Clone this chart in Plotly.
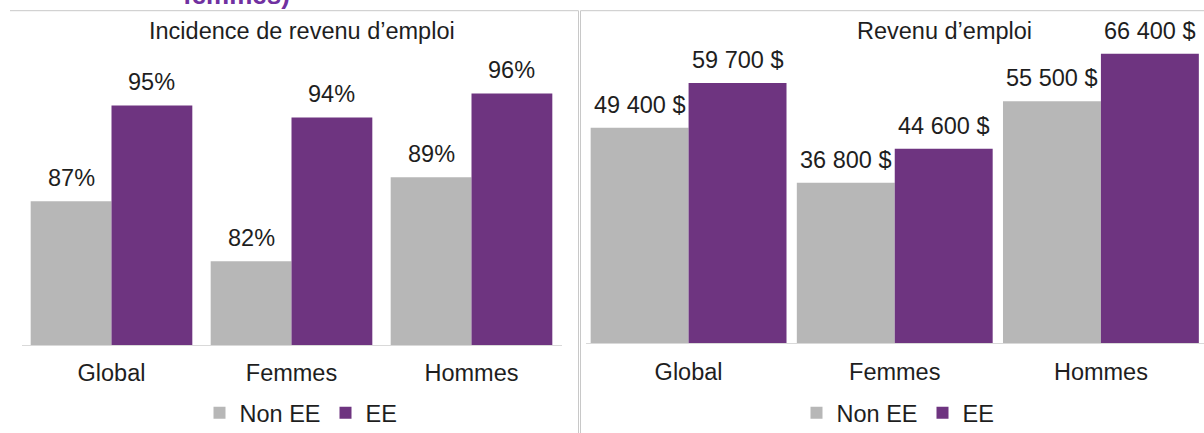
import plotly.graph_objects as go

W, H = 1204, 433

categories = ["Global", "Femmes", "Hommes"]
series_names = ["Non EE", "EE"]

# Incidence de revenu d'emploi (%)
incidence_non_ee = [87, 82, 89]
incidence_ee = [95, 94, 96]

# Revenu d'emploi ($)
revenu_non_ee = [49400, 36800, 55500]
revenu_ee = [59700, 44600, 66400]

panel_titles = ["Incidence de revenu d\u2019emploi", "Revenu d\u2019emploi"]

GRAY = "#B7B7B7"
PURPLE = "#6E3480"
TEXT = "#1E1E1E"
FRAME = "#C8C8C8"
FONT = "Liberation Sans, Arial, sans-serif"
FS = 23.5


def px_x(x):
    return x / W


def px_y(y):
    return 1 - y / H


def fmt_pct(v):
    return f"{v}%"


def fmt_dollar(v):
    return f"{v:,}".replace(",", " ") + " $"


fig = go.Figure()

panels = [
    dict(xa="x", ya="y", legend="legend", width=0.449,
         data=[incidence_non_ee, incidence_ee], fmt=fmt_pct),
    dict(xa="x2", ya="y2", legend="legend2", width=0.475,
         data=[revenu_non_ee, revenu_ee], fmt=fmt_dollar),
]

annotations = []
for p in panels:
    w = p["width"]
    for s, (name, color, vals) in enumerate(zip(series_names, [GRAY, PURPLE], p["data"])):
        offset = -w if s == 0 else 0.0
        fig.add_trace(go.Bar(
            x=categories, y=vals, name=name,
            marker=dict(color=color, line=dict(width=0)),
            width=w, offset=offset,
            xaxis=p["xa"], yaxis=p["ya"], legend=p["legend"],
            hoverinfo="skip",
        ))
        # value labels above each bar
        for i, v in enumerate(vals):
            annotations.append(dict(
                x=i + offset + w / 2, y=v,
                xref=p["xa"], yref=p["ya"],
                text=p["fmt"](v), showarrow=False,
                xanchor="center", yanchor="bottom", yshift=8,
                font=dict(family=FONT, size=FS, color=TEXT),
            ))

# panel titles
annotations.append(dict(x=px_x(302), y=px_y(31), xref="paper", yref="paper",
                        text=panel_titles[0], showarrow=False,
                        xanchor="center", yanchor="middle",
                        font=dict(family=FONT, size=FS, color=TEXT)))
annotations.append(dict(x=px_x(944), y=px_y(31), xref="paper", yref="paper",
                        text=panel_titles[1], showarrow=False,
                        xanchor="center", yanchor="middle",
                        font=dict(family=FONT, size=FS, color=TEXT)))
# heading text running off the top edge
annotations.append(dict(x=px_x(236), y=px_y(11), xref="paper", yref="paper",
                        text="<b>femmes)</b>", showarrow=False,
                        xanchor="center", yanchor="bottom", borderpad=0,
                        font=dict(family=FONT, size=26, color="#7030A0")))

# chart frames
shapes = [
    dict(type="line", xref="paper", yref="paper",
         x0=px_x(10), x1=px_x(578.5), y0=px_y(10.7), y1=px_y(10.7),
         line=dict(color=FRAME, width=1)),
    dict(type="line", xref="paper", yref="paper",
         x0=px_x(578.5), x1=px_x(578.5), y0=px_y(10.7), y1=0,
         line=dict(color=FRAME, width=1)),
    dict(type="line", xref="paper", yref="paper",
         x0=px_x(580.5), x1=1, y0=px_y(10.7), y1=px_y(10.7),
         line=dict(color=FRAME, width=1)),
    dict(type="line", xref="paper", yref="paper",
         x0=px_x(580.5), x1=px_x(580.5), y0=px_y(10.7), y1=0,
         line=dict(color=FRAME, width=1)),
]

xaxis_common = dict(
    type="category", showgrid=False, zeroline=False, ticks="",
    showline=True, linecolor="#D9D9D9", linewidth=1, automargin=False,
    tickfont=dict(family=FONT, size=FS, color=TEXT), fixedrange=True,
    ticklabelstandoff=7,
)
yaxis_common = dict(showgrid=False, zeroline=False, showticklabels=False,
                    showline=False, ticks="", automargin=False, fixedrange=True)

legend_common = dict(
    orientation="h", xanchor="center", yanchor="middle",
    font=dict(family=FONT, size=FS, color=TEXT),
    bgcolor="rgba(0,0,0,0)", itemclick=False, itemdoubleclick=False,
    tracegroupgap=0,
)

fig.update_layout(
    width=W, height=H,
    margin=dict(l=0, r=0, t=0, b=0, autoexpand=False),
    paper_bgcolor="white", plot_bgcolor="white",
    barmode="overlay",
    xaxis=dict(domain=[px_x(21.5), px_x(561.5)], anchor="y",
               range=[-0.5, 2.5], **xaxis_common),
    yaxis=dict(domain=[px_y(345), px_y(45.6)], anchor="x",
               range=[75, 100], **yaxis_common),
    xaxis2=dict(domain=[px_x(585.5), 1.0], anchor="y2",
                range=[-0.5, 2.5], **xaxis_common),
    yaxis2=dict(domain=[px_y(343.3), px_y(38)], anchor="x2",
                range=[0, 70000], **yaxis_common),
    legend=dict(x=px_x(301), y=px_y(413), **legend_common),
    legend2=dict(x=px_x(898), y=px_y(413), **legend_common),
    annotations=annotations,
    shapes=shapes,
    showlegend=True,
)

fig.write_html("out.html")
